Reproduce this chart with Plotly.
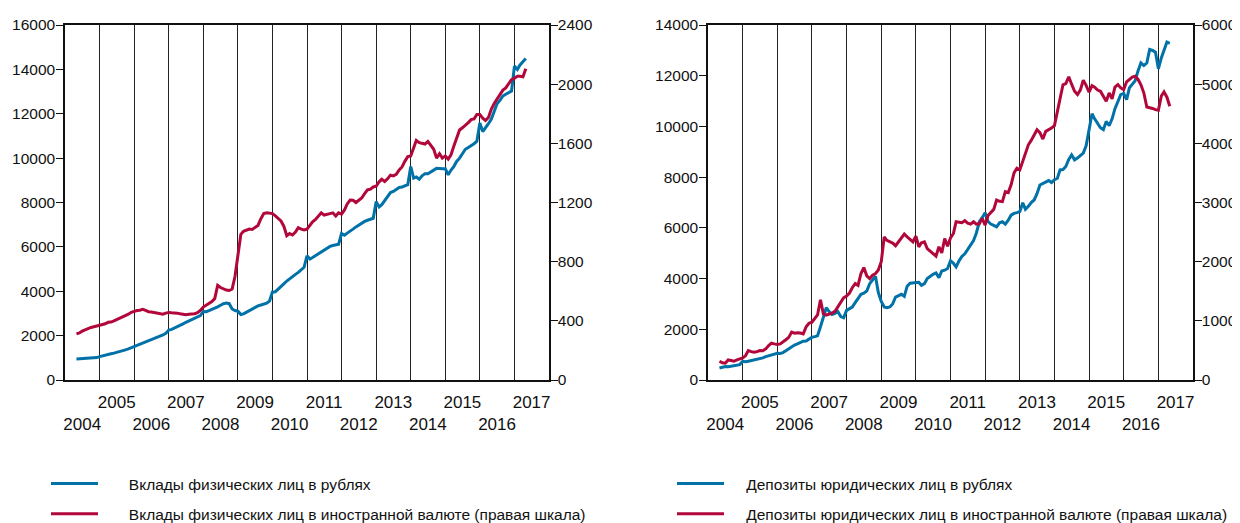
import pandas as pd
import plotly.graph_objects as go

# monthly points, May 2004 .. May 2017
months = pd.date_range("2004-05-01", periods=157, freq="MS")

# left panel: household deposits, bn rub
vklady_rub = [
    950, 955, 960, 970, 975, 985, 995, 1010,
    1056, 1080, 1110, 1150, 1180, 1210, 1240, 1280, 1320, 1360, 1400, 1450,
    1510, 1550, 1600, 1650, 1700, 1760, 1820, 1870, 1920, 1980, 2030, 2100,
    2250, 2280, 2330, 2400, 2460, 2530, 2600, 2660, 2720, 2790, 2850, 2900,
    3090, 3080, 3130, 3180, 3250, 3300, 3370, 3440, 3470, 3440, 3200, 3130,
    3100, 2950, 2980, 3050, 3120, 3200, 3280, 3340, 3380, 3420, 3460, 3560,
    3970, 3980, 4080, 4200, 4330, 4460, 4570, 4660, 4760, 4850, 4950, 5080,
    5600, 5450, 5520, 5600, 5700, 5760, 5850, 5950, 6020, 6060, 6080, 6120,
    6600, 6530, 6620, 6700, 6800, 6900, 6980, 7080, 7150, 7200, 7250, 7290,
    8040, 7800, 7900, 8100, 8300, 8450, 8500, 8600, 8680, 8700, 8740, 8800,
    9620, 9100, 9150, 9050, 9200, 9300, 9300, 9400, 9460, 9540, 9520, 9520,
    9520, 9250, 9450, 9620, 9850, 10000, 10200, 10400, 10480, 10550, 10650, 10760,
    11580, 11200, 11350, 11550, 11750, 12100, 12450, 12600, 12800, 12880, 12950, 13020,
    14150, 14000, 14200, 14350, 14490,
]
vklady_val = [
    312, 318, 330, 340, 350, 355, 360, 365,
    369, 372, 380, 390, 392, 400, 408, 415, 425, 435, 445, 458,
    466, 470, 472, 478, 470, 462, 460, 455, 450, 445, 445, 452,
    457, 455, 455, 452, 448, 443, 442, 445, 445, 448, 455, 470,
    493, 505, 518, 530, 550, 640, 625, 615, 608, 605, 615, 700,
    850, 985, 1005, 1010, 1020, 1018, 1030, 1045, 1090, 1125, 1130, 1128,
    1125, 1110, 1095, 1075, 1040, 975, 990, 980, 1000, 1030, 1020, 1015,
    1020, 1045, 1070, 1085, 1110, 1130, 1115, 1118, 1125, 1130, 1108, 1130,
    1122, 1150, 1190, 1217, 1215, 1200, 1215, 1230, 1260, 1285, 1290, 1305,
    1310, 1340, 1357, 1342, 1360, 1385, 1380, 1390, 1420, 1440, 1480, 1510,
    1515, 1570, 1620, 1605, 1600, 1595, 1613, 1590, 1560, 1500, 1530, 1500,
    1515, 1493, 1520, 1580, 1640, 1690, 1705, 1720, 1740, 1760, 1765, 1795,
    1795, 1770, 1755, 1775, 1830, 1870, 1900, 1930, 1960, 1975, 2000, 2030,
    2040, 2054, 2054, 2050, 2104,
]

# right panel: corporate deposits
depo_rub = [
    475, 500, 528, 520, 545, 554, 580, 607,
    739, 720, 739, 760, 790, 810, 850, 871, 920, 960, 990, 1040,
    1056, 1050, 1080, 1150, 1227, 1300, 1380, 1425, 1480, 1530, 1540, 1600,
    1689, 1710, 1742, 2100, 2450, 2850, 2700, 2586, 2630, 2700, 2500, 2454,
    2745, 2800, 2877, 3050, 3206, 3378, 3420, 3510, 3800, 3950, 4090, 3450,
    3100, 2880, 2850, 2880, 3000, 3272, 3330, 3378, 3299, 3700, 3820, 3830,
    3866, 3850, 3734, 3800, 3998, 4100, 4170, 4222, 4038, 4300, 4330, 4394,
    4700, 4600, 4460, 4700, 4870, 4980, 5146, 5357, 5500, 5800, 6241, 6400,
    6598, 6250, 6150, 6100, 6043, 6200, 6241, 6149, 6300, 6500, 6571, 6600,
    6640, 6993, 6729, 6850, 7000, 7100, 7350, 7692, 7740, 7785, 7864, 7785,
    7900, 7957, 8286, 8300, 8418, 8700, 8880, 8682, 8750, 8850, 8946, 9237,
    9900, 10500, 10300, 10134, 9950, 9870, 10200, 10028, 10300, 10700, 11000, 11256,
    11300, 11058, 11519, 11650, 11800, 12200, 12509, 12403, 12500, 13037, 13000, 12931,
    12271, 12700, 13037, 13327, 13280,
]
depo_val = [
    317, 290, 283, 339, 330, 317, 340, 360,
    373, 413, 498, 480, 469, 480, 498, 495, 526, 582, 622, 610,
    599, 610, 639, 680, 720, 809, 790, 800, 795, 780, 900, 960,
    978, 1040, 1100, 1357, 1120, 1095, 1110, 1130, 1160, 1240, 1320, 1390,
    1420, 1470, 1560, 1629, 1600, 1800, 1900, 1760, 1713, 1770, 1798, 1860,
    2000, 2420, 2360, 2336, 2315, 2270, 2330, 2400, 2466, 2420, 2380, 2336,
    2432, 2251, 2320, 2336, 2222, 2180, 2138, 2092, 2251, 2149, 2392, 2262,
    2400, 2477, 2675, 2670, 2658, 2692, 2650, 2635, 2675, 2635, 2640, 2731,
    2618, 2780, 2828, 2884, 3042, 3020, 3014, 3184, 3167, 3300, 3500, 3580,
    3551, 3700, 3806, 3975, 4050, 4145, 4230, 4180, 4072, 4202, 4230, 4258,
    4300, 4550, 4800, 4990, 5010, 5124, 5000, 4880, 4824, 4900, 5067, 4980,
    4863, 4976, 4950, 4900, 4880, 4800, 4711, 4852, 4750, 4950, 4993, 4937,
    4909, 5040, 5080, 5120, 5135, 5080, 4990, 4850, 4615, 4605, 4590, 4569,
    4558, 4800, 4870, 4780, 4626,
]

years = list(range(2004, 2018))
# odd years on the upper row, even years on the lower row
year_labels = [str(y) if y % 2 else "<br>" + str(y) for y in years]

BLUE = "#0072A8"
RED = "#B2073B"
FONT = "Liberation Sans, Arial, sans-serif"
# gap between legend line and its text
PAD_L = "\u00a0" * 6
PAD_R = "\u00a0" * 4

# the page body has an 8px margin, so the figure is laid out 8px smaller
W, H = 1232, 523

fig = go.Figure()
fig.add_trace(go.Scatter(x=months, y=vklady_rub, name=PAD_L + "Вклады физических лиц в рублях",
                         line=dict(color=BLUE, width=3), xaxis="x", yaxis="y",
                         legend="legend", legendgroup="a"))
fig.add_trace(go.Scatter(x=months, y=vklady_val, name=PAD_L + "Вклады физических лиц в иностранной валюте (правая шкала)",
                         line=dict(color=RED, width=3), xaxis="x", yaxis="y2",
                         legend="legend", legendgroup="b"))
fig.add_trace(go.Scatter(x=months, y=depo_rub, name=PAD_R + "Депозиты юридических лиц в рублях",
                         line=dict(color=BLUE, width=3), xaxis="x2", yaxis="y3",
                         legend="legend2", legendgroup="c"))
fig.add_trace(go.Scatter(x=months, y=depo_val, name=PAD_R + "Депозиты юридических лиц в иностранной валюте (правая шкала)",
                         line=dict(color=RED, width=3), xaxis="x2", yaxis="y4",
                         legend="legend2", legendgroup="d"))

xcommon = dict(
    type="date",
    range=["2004-01-01", "2018-01-01"],
    tickmode="array",
    tickvals=[f"{y}-07-01" for y in years],
    ticktext=year_labels,
    tickangle=0,
    ticks="outside", ticklen=6, tickcolor="rgba(0,0,0,0)",
    showgrid=False,
    minor=dict(tickmode="array", tickvals=[f"{y}-01-01" for y in years[1:]],
               showgrid=True, gridcolor="#222", gridwidth=1, ticks=""),
    showline=True, linecolor="#111", linewidth=1.5, mirror=True,
    tickfont=dict(size=17, color="#111"),
    automargin=False,
)
ycommon = dict(
    ticks="outside", ticklen=7, tickcolor="#111",
    tickformat="d",
    showgrid=False, zeroline=False,
    showline=True, linecolor="#111", linewidth=1.5,
    tickfont=dict(size=15.5, color="#111"),
    automargin=False,
)

ydom = [1 - 372 / H, 1 - 17 / H]

legcommon = dict(xanchor="left", yanchor="bottom", y=0,
                 bgcolor="rgba(0,0,0,0)", itemwidth=47, tracegroupgap=7,
                 font=dict(size=15.5, color="#111"))

fig.update_layout(
    width=W, height=H,
    margin=dict(l=0, r=0, t=0, b=0),
    paper_bgcolor="white", plot_bgcolor="white",
    font=dict(family=FONT, size=17, color="#111"),
    xaxis=dict(domain=[57 / W, 541 / W], anchor="y", **xcommon),
    xaxis2=dict(domain=[700 / W, 1185 / W], anchor="y3", **xcommon),
    yaxis=dict(domain=ydom, anchor="x", range=[0, 16000], dtick=2000,
               ticklabelstandoff=-2, **ycommon),
    yaxis2=dict(overlaying="y", anchor="x", side="right", range=[0, 2400], dtick=400,
                ticklabelstandoff=-3, **ycommon),
    yaxis3=dict(domain=ydom, anchor="x2", range=[0, 14000], dtick=2000,
                ticklabelstandoff=-2, **ycommon),
    yaxis4=dict(overlaying="y3", anchor="x2", side="right", range=[0, 6000], dtick=1000,
                ticklabelstandoff=-3, **ycommon),
    legend=dict(x=38 / W, **legcommon),
    legend2=dict(x=664 / W, **legcommon),
)

fig.write_html("out.html")
